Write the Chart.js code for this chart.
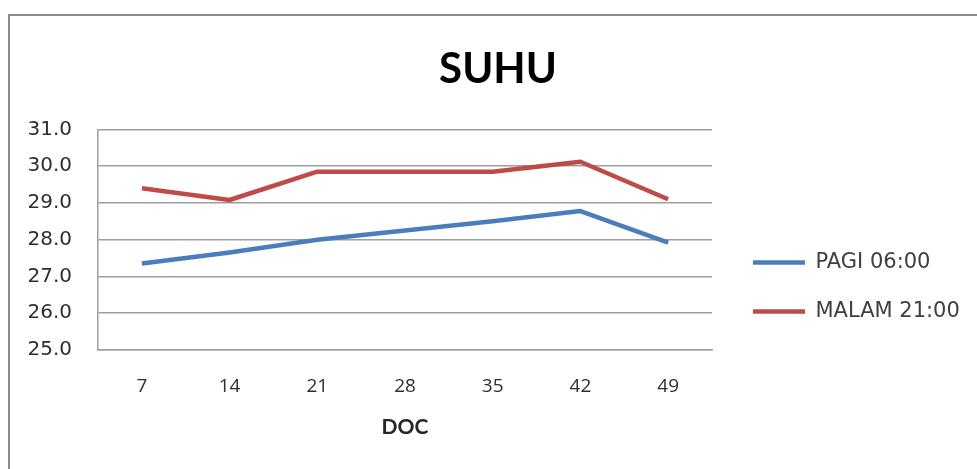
<!DOCTYPE html>
<html><head><meta charset="utf-8">
<script src="https://cdn.jsdelivr.net/npm/chart.js@4.4.1/dist/chart.umd.min.js"></script>
<style>
html,body{margin:0;padding:0;background:#fff;overflow:hidden;width:977px;height:469px;}
#frame{position:absolute;left:8px;top:14px;width:1000px;height:500px;border:2px solid #8c8c8c;box-sizing:border-box;}
#c{position:absolute;left:0;top:0;}
</style></head><body>
<div id="frame"></div>
<canvas id="c" width="996" height="469"></canvas>
<script>
const chartTitle = 'SUHU';
const xTitle = 'DOC';
const categories = ['7', '14', '21', '28', '35', '42', '49'];
const seriesNames = ['PAGI 06:00', 'MALAM 21:00'];
const pagi = [27.35, 27.65, 28.0, 28.25, 28.5, 28.78, 27.92];
const malam = [29.4, 29.08, 29.85, 29.85, 29.85, 30.12, 29.1];
const yMin = 25, yMax = 31, yStep = 1;

const gridColor = '#9e9e9e';

new Chart(document.getElementById('c'), {
  type: 'line',
  data: {
    labels: categories,
    datasets: [
      { label: seriesNames[0], data: pagi, borderColor: '#4A7EBB', backgroundColor: '#4A7EBB',
        borderWidth: 4.5, pointRadius: 0, tension: 0, borderJoinStyle: 'round', fill: false },
      { label: seriesNames[1], data: malam, borderColor: '#BE4B48', backgroundColor: '#BE4B48',
        borderWidth: 4.5, pointRadius: 0, tension: 0, borderJoinStyle: 'round', fill: false }
    ]
  },
  options: {
    responsive: false,
    animation: false,
    events: [],
    layout: { padding: { left: 0, right: 0, top: 16, bottom: 25 } },
    plugins: {
      tooltip: { enabled: false },
      title: {
        display: true, text: chartTitle, color: '#000',
        font: { family: 'Lato', size: 42, weight: 'bold', lineHeight: 1.2 },
        padding: { top: 28, bottom: 35 }
      },
      legend: {
        position: 'right', align: 'end', fullSize: false, maxWidth: 240,
        labels: {
          usePointStyle: true, pointStyle: 'line', pointStyleWidth: 52,
          padding: 28, color: '#404040',
          font: { family: 'DejaVu Sans', size: 21 }
        }
      }
    },
    scales: {
      x: {
        type: 'category', offset: true,
        grid: { display: false, drawTicks: false },
        border: { display: true, color: gridColor, width: 1.5 },
        ticks: { color: '#2e2e2e', padding: 25, font: { family: 'Open Sans', size: 19, lineHeight: 1.2 } },
        title: { display: true, text: xTitle, color: '#262626',
          font: { family: 'Lato', size: 21, weight: 'bold', lineHeight: 1.2 },
          padding: { top: -8, bottom: 4 } }
      },
      y: {
        min: yMin, max: yMax,
        grid: { color: gridColor, lineWidth: 1.5, drawTicks: false },
        border: { display: true, color: gridColor, width: 1.5 },
        ticks: { stepSize: yStep, color: '#2e2e2e', padding: 26,
          font: { family: 'DejaVu Sans', size: 20 },
          callback: v => Number(v).toFixed(1) },
        afterFit: s => { s.width = 98; }
      },
      gapInner: {
        type: 'linear', position: 'right', display: false, weight: 0,
        afterFit: s => { s.width = 13; }
      },
      gapOuter: {
        type: 'linear', position: 'right', display: false, weight: 2000,
        afterFit: s => { s.width = 31; }
      }
    }
  }
});
</script>
</body></html>
